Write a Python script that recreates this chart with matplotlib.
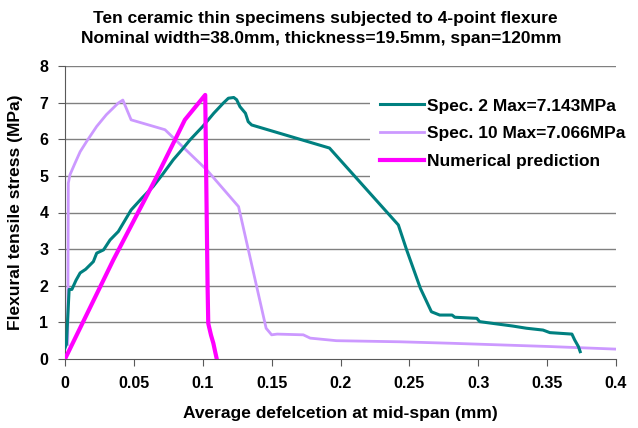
import matplotlib
matplotlib.use("Agg")
import matplotlib.pyplot as plt

plt.rcParams['font.family'] = ['Liberation Sans', 'DejaVu Sans']

title_lines = ["Ten ceramic thin specimens subjected to 4-point flexure",
               "Nominal width=38.0mm, thickness=19.5mm, span=120mm"]
x_label = "Average defelcetion at mid-span (mm)"
y_label = "Flexural tensile stress (MPa)"
x_ticks = [0, 0.05, 0.1, 0.15, 0.2, 0.25, 0.3, 0.35, 0.4]
x_tick_labels = ["0", "0.05", "0.1", "0.15", "0.2", "0.25", "0.3", "0.35", "0.4"]
y_ticks = [0, 1, 2, 3, 4, 5, 6, 7, 8]

spec2_label = "Spec. 2 Max=7.143MPa"
spec2_x = [0.0, 0.001, 0.003, 0.005, 0.008, 0.011, 0.015, 0.0206, 0.023, 0.028, 0.0327,
           0.0387, 0.048, 0.056, 0.064, 0.071, 0.0786, 0.085, 0.0907, 0.100, 0.108,
           0.115, 0.1186, 0.1225, 0.1246, 0.127, 0.131, 0.133, 0.1355, 0.192, 0.242,
           0.248, 0.258, 0.266, 0.272, 0.281, 0.283, 0.299, 0.301, 0.313, 0.325,
           0.335, 0.347, 0.352, 0.368, 0.370, 0.3727, 0.374]
spec2_y = [0.3, 0.4, 1.9, 1.9, 2.15, 2.35, 2.45, 2.66, 2.89, 2.98, 3.25,
           3.48, 4.07, 4.4, 4.71, 5.05, 5.44, 5.72, 5.98, 6.35, 6.71,
           6.99, 7.12, 7.14, 7.08, 6.89, 6.71, 6.48, 6.39, 5.76, 3.66,
           2.98, 1.93, 1.29, 1.20, 1.20, 1.14, 1.11, 1.02, 0.96, 0.90,
           0.84, 0.79, 0.72, 0.68, 0.52, 0.34, 0.20]

spec10_label = "Spec. 10 Max=7.066MPa"
spec10_x = [0.002, 0.0024, 0.0036, 0.0073, 0.011, 0.0157, 0.023, 0.030, 0.0387, 0.042,
            0.046, 0.048, 0.0726, 0.103, 0.126, 0.146, 0.150, 0.154, 0.173, 0.178,
            0.197, 0.243, 0.28, 0.352, 0.4]
spec10_y = [0.4, 4.8, 5.03, 5.35, 5.66, 5.94, 6.35, 6.67, 6.99, 7.07,
            6.71, 6.53, 6.26, 5.16, 4.16, 0.84, 0.66, 0.68, 0.66, 0.57,
            0.50, 0.47, 0.43, 0.34, 0.27]

num_label = "Numerical prediction"
num_x = [0.0, 0.035, 0.0666, 0.081, 0.087, 0.1018, 0.1025, 0.1035, 0.104, 0.106, 0.1077,
         0.109, 0.110]
num_y = [0.0, 2.70, 4.98, 6.07, 6.53, 7.21, 5.0, 2.0, 0.97, 0.65, 0.43, 0.2, 0.03]

fig = plt.figure(figsize=(6.38, 4.28), dpi=100)
ax = fig.add_axes([65/638, 1-359/428, (616-65)/638, (359-66)/428])

for y in y_ticks[1:]:
    ax.axhline(y, color='#808080', lw=1.0, zorder=1)

ax.plot(spec2_x, spec2_y, color='#008080', lw=2.2, label=spec2_label, zorder=3)
ax.plot(spec10_x, spec10_y, color='#CC99FF', lw=2.0, label=spec10_label, zorder=2)
ax.plot(num_x, num_y, color='#FF00FF', lw=3.0, label=num_label, zorder=4)

ax.set_xlim(0, 0.4)
ax.set_ylim(0, 8)
ax.set_xticks(x_ticks)
ax.set_xticklabels(x_tick_labels, fontweight='bold')
ax.set_yticks(y_ticks)
ax.set_yticklabels([str(v) for v in y_ticks], fontweight='bold')
ax.tick_params(axis='both', labelsize=11.5, color='#595959', length=5, direction='out', pad=7)
for s in ['top', 'right']:
    ax.spines[s].set_visible(False)
for s in ['left', 'bottom']:
    ax.spines[s].set_color('#595959')

ax.set_xlabel(x_label, fontsize=12.5, fontweight='bold', labelpad=11)
ax.set_ylabel(y_label, fontsize=12.5, fontweight='bold', labelpad=12)
fig.text(325/638, 1-19/428, title_lines[0], ha='center', va='center', fontsize=12.5, fontweight='bold')
fig.text(321/638, 1-39/428, title_lines[1], ha='center', va='center', fontsize=12.5, fontweight='bold')

leg = ax.legend(loc='upper left', bbox_to_anchor=(370/638, 1-88/428),
                bbox_transform=fig.transFigure, frameon=True, fancybox=False,
                prop={'size': 12.5, 'weight': 'bold'}, handlelength=2.5,
                labelspacing=0.72, borderaxespad=0, borderpad=0.6, handletextpad=0.2)
leg.get_frame().set_edgecolor('none')
leg.get_frame().set_facecolor('white')
leg.get_frame().set_alpha(1)

fig.savefig('out.png', dpi=100)
